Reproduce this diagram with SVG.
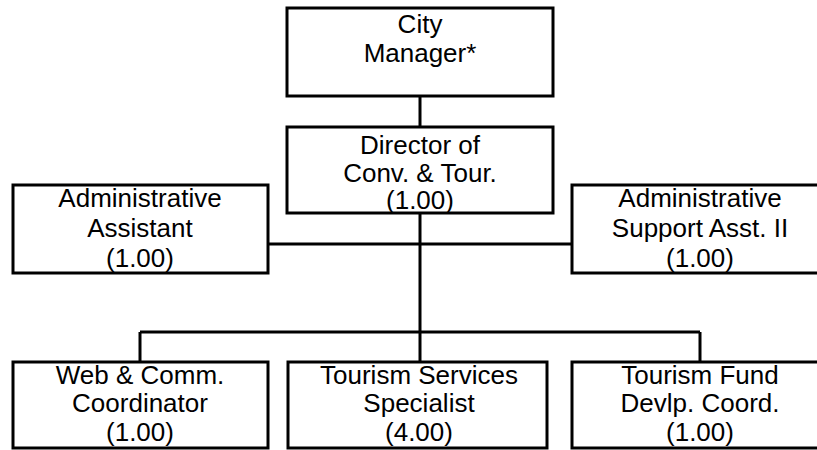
<svg xmlns="http://www.w3.org/2000/svg" width="817" height="450" viewBox="0 0 817 450">
<style>
.box{fill:#fff;stroke:#000;stroke-width:3}
.t{font-family:"Liberation Sans",Arial,sans-serif;font-size:26px;fill:#000;text-anchor:middle}
.c{stroke:#000;stroke-width:3;fill:none}
</style>
<rect width="817" height="450" fill="#fff"/>
<g id="connectors">
<line class="c" x1="420" y1="96" x2="420" y2="127"/>
<line class="c" x1="420" y1="213" x2="420" y2="362"/>
<line class="c" x1="268" y1="244" x2="572" y2="244"/>
<line class="c" x1="140" y1="332" x2="700" y2="332"/>
<line class="c" x1="140" y1="332" x2="140" y2="362"/>
<line class="c" x1="700" y1="332" x2="700" y2="362"/>
</g>
<g id="city-manager">
<rect class="box" x="287" y="8" width="266" height="88"/>
<text class="t" x="420" y="32.5">City</text>
<text class="t" x="420" y="61.5">Manager*</text>
</g>
<g id="director">
<rect class="box" x="287" y="127" width="266" height="86"/>
<text class="t" x="420" y="154">Director of</text>
<text class="t" x="420" y="182">Conv. &amp; Tour.</text>
<text class="t" x="420" y="208.5">(1.00)</text>
</g>
<g id="admin-assistant">
<rect class="box" x="13" y="185" width="255" height="88"/>
<text class="t" x="140" y="206.5">Administrative</text>
<text class="t" x="140" y="236.5">Assistant</text>
<text class="t" x="140" y="267">(1.00)</text>
</g>
<g id="admin-support">
<rect class="box" x="572" y="185" width="256" height="88"/>
<text class="t" x="700" y="206.5">Administrative</text>
<text class="t" x="700" y="236.5">Support Asst. II</text>
<text class="t" x="700" y="267">(1.00)</text>
</g>
<g id="web-comm">
<rect class="box" x="13" y="362" width="255" height="86"/>
<text class="t" x="140" y="383.5">Web &amp; Comm.</text>
<text class="t" x="140" y="412">Coordinator</text>
<text class="t" x="140" y="440.5">(1.00)</text>
</g>
<g id="tourism-services">
<rect class="box" x="288" y="362" width="259" height="86"/>
<text class="t" x="419" y="383.5">Tourism Services</text>
<text class="t" x="419" y="412">Specialist</text>
<text class="t" x="419" y="440.5">(4.00)</text>
</g>
<g id="tourism-fund">
<rect class="box" x="572" y="362" width="256" height="86"/>
<text class="t" x="700" y="383.5">Tourism Fund</text>
<text class="t" x="700" y="412">Devlp. Coord.</text>
<text class="t" x="700" y="440.5">(1.00)</text>
</g>
</svg>
